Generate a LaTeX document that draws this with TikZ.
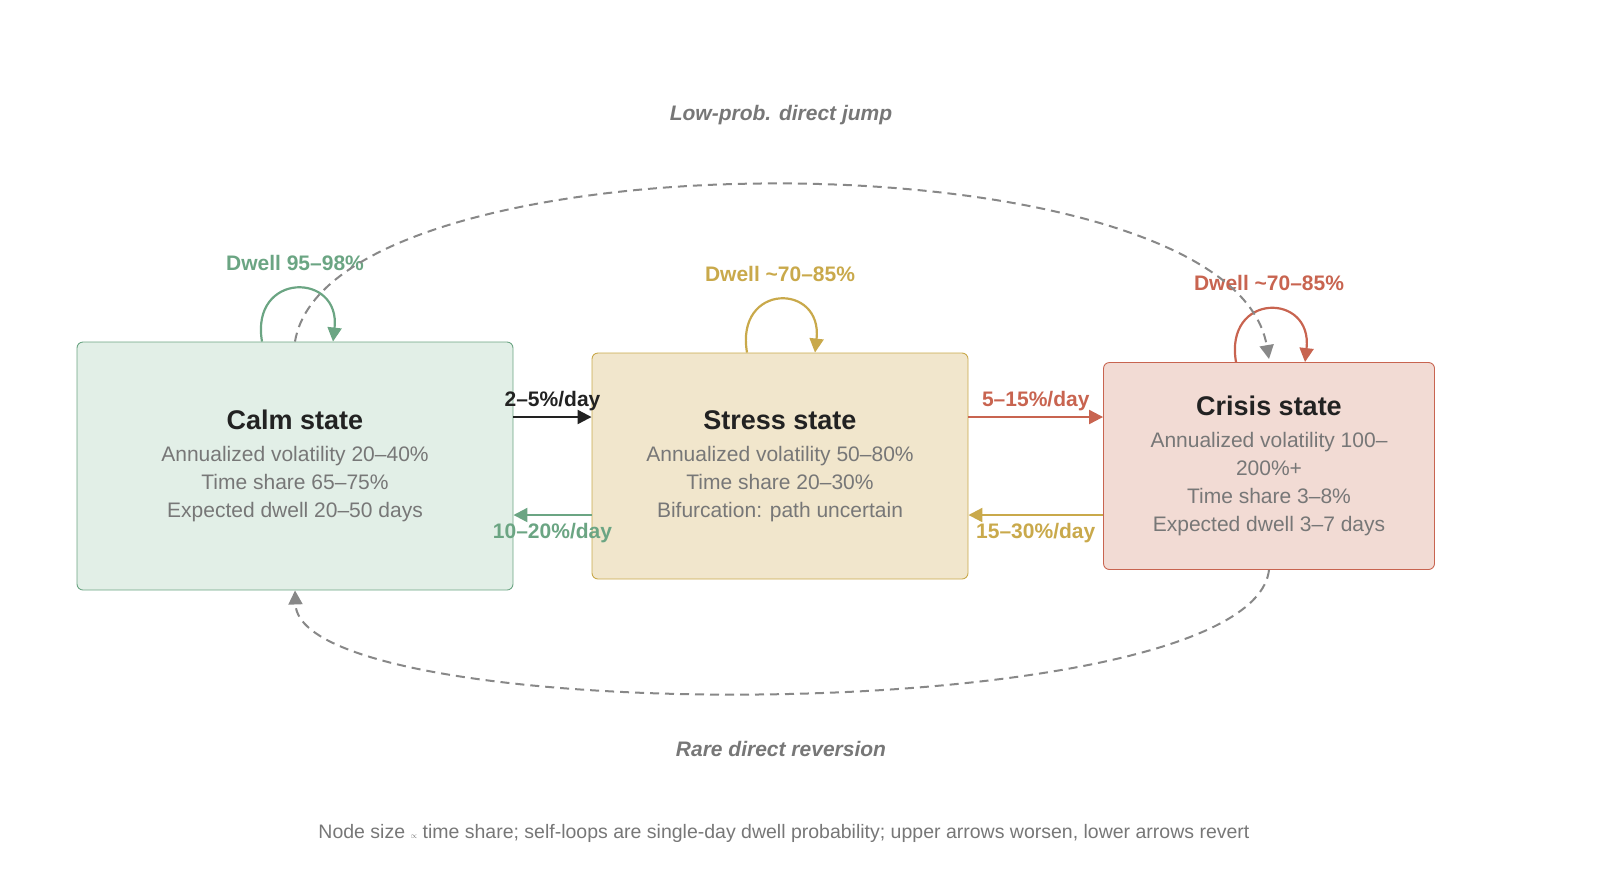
\documentclass[tikz,border=0pt]{standalone}
\usepackage{fontspec}
\setmainfont{Liberation Sans}
\usetikzlibrary{arrows.meta}
\definecolor{calmc}{HTML}{6BA583}
\definecolor{calmf}{HTML}{E2EFE7}
\definecolor{stressc}{HTML}{C9A94B}
\definecolor{stressf}{HTML}{F1E6CC}
\definecolor{crisisc}{HTML}{C86450}
\definecolor{crisisf}{HTML}{F2DBD4}
\definecolor{txtgray}{HTML}{777777}
\definecolor{dashgray}{HTML}{888888}
\definecolor{ink}{HTML}{222222}
\tikzset{statebox/.style={draw,rounded corners=6pt,line width=0.9pt,align=center,text=txtgray,font=\fontsize{21}{28}\selectfont}}
\tikzset{flow/.style={line width=2.2pt,-{Triangle[length=14pt,width=14pt]}}}
\tikzset{rate/.style={font=\fontsize{21}{24}\selectfont\bfseries}}
\tikzset{jump/.style={dashgray,line width=2pt,dash pattern=on 9pt off 6pt,-{Triangle[length=14pt,width=14pt]}}}
\newcommand{\stitle}[1]{{\color{ink}\fontsize{27}{30}\selectfont\bfseries #1}\\[4pt]}

\begin{document}
\begin{tikzpicture}[x=1pt,y=-1pt]
	\useasboundingbox (0,0) rectangle (1600,895);

	\node[statebox,draw=calmc,fill=calmf,minimum width=436pt,minimum height=248pt] (calm) at (295,466)
		{\stitle{Calm state}Annualized volatility 20--40\%\\Time share 65--75\%\\Expected dwell 20--50 days};
	\node[statebox,draw=stressc,fill=stressf,minimum width=376pt,minimum height=226pt] (stress) at (780,466)
		{\stitle{Stress state}Annualized volatility 50--80\%\\Time share 20--30\%\\Bifurcation: path uncertain};
	\node[statebox,draw=crisisc,fill=crisisf,minimum width=331pt,minimum height=207pt] (crisis) at (1269,466)
		{\stitle{Crisis state}Annualized volatility 100--\\200\%+\\Time share 3--8\%\\Expected dwell 3--7 days};

	% worsening / reverting rates
	\draw[flow,ink] ([yshift=49pt]calm.east) -- ([yshift=49pt]stress.west) node[rate,ink,midway,above=2pt] {2--5\%/day};
	\draw[flow,calmc] ([yshift=-49pt]stress.west) -- ([yshift=-49pt]calm.east) node[rate,midway,below=4pt] {10--20\%/day};
	\draw[flow,crisisc] ([yshift=49pt]stress.east) -- ([yshift=49pt]crisis.west) node[rate,midway,above=2pt] {5--15\%/day};
	\draw[flow,stressc] ([yshift=-49pt]crisis.west) -- ([yshift=-49pt]stress.east) node[rate,midway,below=4pt] {15--30\%/day};

	% self-loops
	\draw[flow,calmc] ([xshift=-33pt]calm.north) .. controls +(-12,-70) and +(8,-70) .. ([xshift=38pt]calm.north);
	\node[rate,text=calmc] (calmdwell) at (295,263) {Dwell 95--98\%};
	\draw[flow,stressc] ([xshift=-33pt]stress.north) .. controls +(-12,-70) and +(8,-70) .. ([xshift=35pt]stress.north);
	\node[rate,text=stressc] (stressdwell) at (780,274) {Dwell \textasciitilde70--85\%};
	\draw[flow,crisisc] ([xshift=-33pt]crisis.north) .. controls +(-12,-70) and +(8,-70) .. ([xshift=36pt]crisis.north);
	\node[rate,text=crisisc] (crisisdwell) at (1269,283) {Dwell \textasciitilde70--85\%};

	% direct jumps
	\draw[jump] (calm.north) .. controls (330,130) and (1230,130) .. ([yshift=3pt]crisis.north);
	\node[text=txtgray,font=\fontsize{21}{24}\selectfont\bfseries\itshape] (jumplbl) at (781,115) {Low-prob. direct jump};
	\draw[jump] (crisis.south) .. controls (1250,730) and (300,730) .. (calm.south);
	\node[text=txtgray,font=\fontsize{21}{24}\selectfont\bfseries\itshape] (revlbl) at (781,749) {Rare direct reversion};

	\node[text=txtgray,font=\fontsize{19.5}{22}\selectfont] (note) at (784,833)
		{Node size {\footnotesize$\propto$} time share; self-loops are single-day dwell probability; upper arrows worsen, lower arrows revert};
\end{tikzpicture}
\end{document}
